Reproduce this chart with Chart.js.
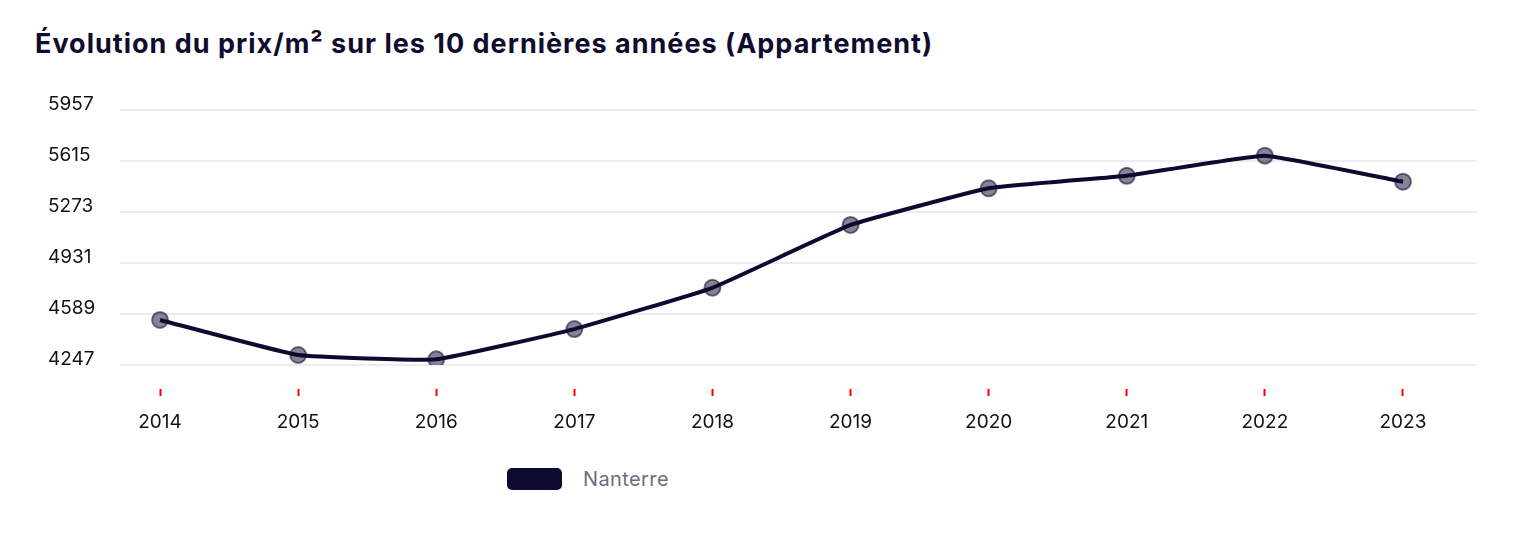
<!DOCTYPE html>
<html lang="fr">
<head>
<meta charset="utf-8">
<script src="https://cdn.jsdelivr.net/npm/chart.js@4"></script>
<style>
    body { margin: 0; background: #fff; font-family: Inter, sans-serif; }
    .wrap { position: relative; width: 1522px; height: 548px; }
    h2 {
        position: absolute; left: 35px; top: 27px; margin: 0;
        font-size: 27px; font-weight: 700; color: #0f0d2e; letter-spacing: 1px;
    }
    #chart { position: absolute; left: 0; top: 0; }
    .legend {
        position: absolute; left: 507px; top: 467px;
        display: flex; align-items: center; font-size: 20px; color: #6e6d80; letter-spacing: 0.4px;
    }
    .legend .box {
        width: 55px; height: 22px; border-radius: 5px; background: #0c0a2e; margin-right: 21px;
    }
</style>
</head>
<body>
<div class="wrap">
    <h2>Évolution du prix/m² sur les 10 dernières années (Appartement)</h2>
    <canvas id="chart" width="1522" height="450"></canvas>
    <div class="legend"><span class="box"></span><span id="legendLabel"></span></div>
</div>
<script>
const years = [2014, 2015, 2016, 2017, 2018, 2019, 2020, 2021, 2022, 2023];
const prices = [4549, 4314, 4285, 4488, 4765, 5186, 5432, 5516, 5651, 5476];
const yTicks = [4247, 4589, 4931, 5273, 5615, 5957];
const cityName = 'Nanterre';

const points = years.map((y, i) => ({ x: y, y: prices[i] }));
document.getElementById('legendLabel').textContent = cityName;

const ctx = document.getElementById('chart').getContext('2d');
new Chart(ctx, {
    type: 'line',
    data: {
        datasets: [
            {
                label: cityName,
                data: points,
                borderColor: '#0c0a2e',
                borderWidth: 4,
                tension: 0.1,
                pointRadius: 0,
                order: 0
            },
            {
                label: cityName + ' points',
                data: points,
                showLine: false,
                pointRadius: 8,
                pointBorderWidth: 2,
                pointBackgroundColor: 'rgba(12, 10, 46, 0.5)',
                pointBorderColor: 'rgba(12, 10, 46, 0.55)',
                order: 1
            }
        ]
    },
    options: {
        responsive: false,
        animation: false,
        layout: { padding: { top: 110, left: 48, right: 45, bottom: 0 } },
        plugins: {
            legend: { display: false },
            tooltip: { enabled: false }
        },
        scales: {
            x: {
                type: 'linear',
                min: 2013.71,
                max: 2023.536,
                afterFit: s => { s.height = 85; },
                afterBuildTicks: axis => { axis.ticks = years.map(v => ({ value: v })); },
                border: { display: false },
                grid: {
                    drawOnChartArea: false,
                    tickLength: 31,
                    tickColor: '#ff0000',
                    tickWidth: 2,
                    tickBorderDash: [0, 24, 7, 100]
                },
                ticks: {
                    padding: 15,
                    color: '#111',
                    font: { family: 'Inter', size: 19 },
                    callback: v => String(v)
                }
            },
            y: {
                min: yTicks[0],
                max: yTicks[yTicks.length - 1],
                afterFit: s => { s.width = 72; },
                afterBuildTicks: axis => { axis.ticks = yTicks.map(v => ({ value: v })); },
                border: { display: false },
                grid: {
                    color: '#ebebf0',
                    lineWidth: 2,
                    drawTicks: false
                },
                ticks: {
                    padding: 23,
                    crossAlign: 'far',
                    labelOffset: -6,
                    color: '#111',
                    font: { family: 'Inter', size: 19 },
                    callback: v => String(v)
                }
            }
        }
    }
});
</script>
</body>
</html>
